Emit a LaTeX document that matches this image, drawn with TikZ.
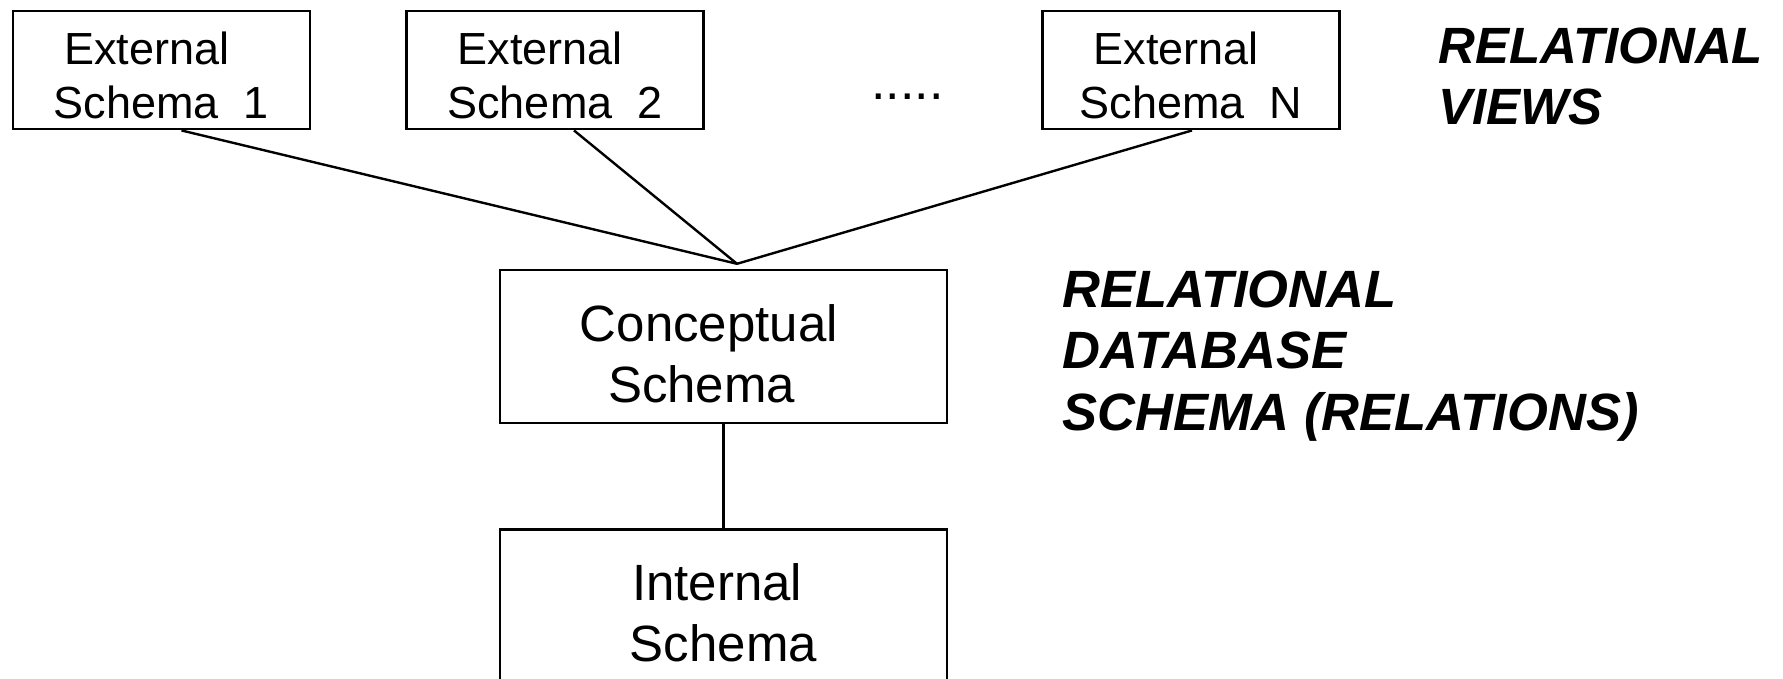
\documentclass[tikz,border=0pt]{standalone}
\usepackage{fontspec}
\setmainfont{Liberation Sans}
\usetikzlibrary{calc}

\tikzset{
  schemabox/.style={draw, line width=2.4pt, rectangle, inner sep=0pt, align=center},
  extbox/.style={schemabox, minimum width=297pt, minimum height=118.5pt,
    font=\fontsize{45}{54.3}\selectfont},
  bigbox/.style={schemabox, minimum width=447pt, minimum height=153pt,
    font=\fontsize{51}{61}\selectfont},
  link/.style={line width=2.4pt},
  % multi-line captions: the base anchor sits on the last line
  tag/.style={anchor=base west, inner sep=0pt, align=left,
    font=\fontsize{#1}{61.5}\selectfont\bfseries\itshape},
  tag/.default=51,
}

\begin{document}
\begin{tikzpicture}[x=1pt, y=-1pt]
  \useasboundingbox (0,0) rectangle (1783,679);
  \clip (0,0) rectangle (1783,679);

  % external views
  \node[extbox] (e1) at (161.5,70)
    {\rule{0pt}{44pt}External\hspace*{0.65em}\\Schema\ \ 1};
  \node[extbox] (e2) at (555,70)
    {\rule{0pt}{44pt}External\hspace*{0.65em}\\Schema\ \ 2};
  \node[extbox] (en) at (1191,70)
    {\rule{0pt}{44pt}External\hspace*{0.65em}\\Schema\ \ N};
  \node[anchor=base west, inner sep=0pt, font=\fontsize{52}{54}\selectfont]
    (dots) at (871,100) {.....};

  % conceptual and internal levels
  \node[bigbox] (cs) at (723.5,346.5)
    {\rule{0pt}{51.7pt}Conceptual\hspace*{0.57em}\\Schema\hspace*{0.86em}};
  \node[bigbox] (is) at (723.5,605.8)
    {\rule{0pt}{51.8pt}Internal\hspace*{0.25em}\\Schema};

  % mapping lines
  \coordinate (hub) at ($(cs.north)+(13.5,-5)$);
  \draw[link] ($(e1.south)+(20,0)$) -- (hub);
  \draw[link] ($(e2.south)+(19,0)$) -- (hub);
  \draw[link] ($(en.south)+(1,0)$) -- (hub);
  \draw[link] (cs.south) -- (is.north);

  % level captions
  \node[tag=51] (views) at (1438,125) {RELATIONAL\\VIEWS};
  \node[tag=52.5] (dbschema) at (1062,430)
    {RELATIONAL\\DATABASE\\SCHEMA (RELATIONS)};
\end{tikzpicture}
\end{document}
